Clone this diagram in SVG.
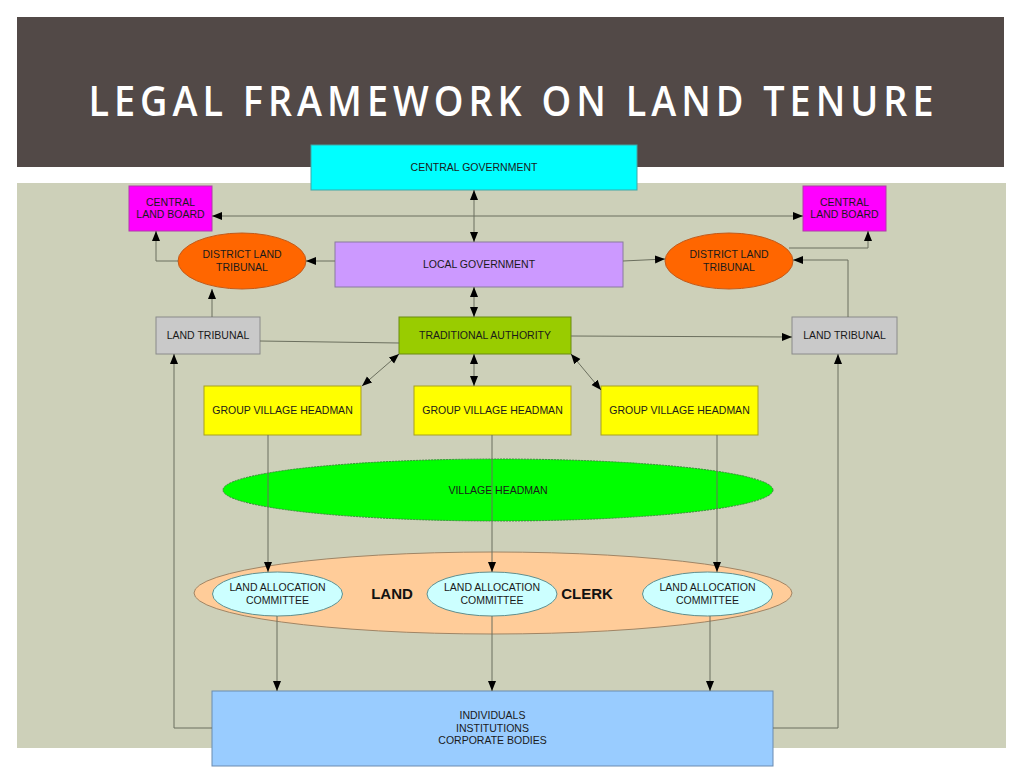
<svg xmlns="http://www.w3.org/2000/svg" width="1024" height="768" viewBox="0 0 1024 768">
<style>
text{font-family:"Liberation Sans",Arial,sans-serif;font-size:10.5px;fill:#1a1a1a;text-anchor:middle;dominant-baseline:central}
.title{font-family:"Open Sans","Liberation Sans",sans-serif;font-size:42px;font-weight:600;fill:#ffffff;dominant-baseline:auto}
.big{font-size:15px;font-weight:bold;fill:#111}
.c{fill:none;stroke:#6b6f5e;stroke-width:1}
.a{marker-end:url(#ar)}
.b{marker-start:url(#ar);marker-end:url(#ar)}
</style>
<defs>
<marker id="ar" markerUnits="userSpaceOnUse" markerWidth="11" markerHeight="9" refX="10" refY="4" orient="auto-start-reverse" viewBox="0 0 11 9">
<path d="M0,0 L10,4 L0,8 z" fill="#000"/>
</marker>
</defs>
<rect width="1024" height="768" fill="#ffffff"/>
<rect x="17" y="17" width="987" height="150" fill="#524947"/>
<rect x="17" y="183" width="989" height="565" fill="#cdd0b9"/>
<text class="title" transform="scale(0.9,1)" x="567.8" y="116" textLength="939" lengthAdjust="spacing">LEGAL FRAMEWORK ON LAND TENURE</text>

<g id="central-government"><rect x="311" y="145" width="326" height="45" fill="#00ffff" stroke="#3fa7a7"/><text x="474" y="167">CENTRAL GOVERNMENT</text></g>
<g id="central-land-board-left"><rect x="129" y="186" width="83" height="45" fill="#ff00ff" stroke="#b03aa8"/><text x="170.5" y="201.5">CENTRAL</text><text x="170.5" y="214">LAND BOARD</text></g>
<g id="central-land-board-right"><rect x="803" y="186" width="83" height="45" fill="#ff00ff" stroke="#b03aa8"/><text x="844.5" y="201.5">CENTRAL</text><text x="844.5" y="214">LAND BOARD</text></g>
<g id="district-land-tribunal-left"><ellipse cx="242" cy="261" rx="64" ry="28" fill="#ff6600" stroke="#c25a1a"/><text x="242" y="254">DISTRICT LAND</text><text x="242" y="267">TRIBUNAL</text></g>
<g id="district-land-tribunal-right"><ellipse cx="729" cy="261" rx="64" ry="28" fill="#ff6600" stroke="#c25a1a"/><text x="729" y="254">DISTRICT LAND</text><text x="729" y="267">TRIBUNAL</text></g>
<g id="local-government"><rect x="335" y="242" width="288" height="45" fill="#cc99ff" stroke="#8a7b9e"/><text x="479" y="264">LOCAL GOVERNMENT</text></g>
<g id="land-tribunal-left"><rect x="156" y="317" width="104" height="37" fill="#c9c9c9" stroke="#8a8a8a"/><text x="208" y="335">LAND TRIBUNAL</text></g>
<g id="land-tribunal-right"><rect x="792" y="317" width="105" height="37" fill="#c9c9c9" stroke="#8a8a8a"/><text x="844.5" y="335">LAND TRIBUNAL</text></g>
<g id="traditional-authority"><rect x="399" y="317" width="172" height="37" fill="#99cc00" stroke="#6b8a10"/><text x="485" y="335">TRADITIONAL AUTHORITY</text></g>
<g id="group-village-headman-1"><rect x="204" y="386" width="157" height="49" fill="#ffff00" stroke="#a7a020"/><text x="282.5" y="410">GROUP VILLAGE HEADMAN</text></g>
<g id="group-village-headman-2"><rect x="414" y="386" width="157" height="49" fill="#ffff00" stroke="#a7a020"/><text x="492.5" y="410">GROUP VILLAGE HEADMAN</text></g>
<g id="group-village-headman-3"><rect x="601" y="386" width="157" height="49" fill="#ffff00" stroke="#a7a020"/><text x="679.5" y="410">GROUP VILLAGE HEADMAN</text></g>
<g id="village-headman"><ellipse cx="498" cy="490" rx="275" ry="31" fill="#00ff00" stroke="#3a8a3a" stroke-dasharray="2,1"/><text x="498" y="490">VILLAGE HEADMAN</text></g>
<g id="land-clerk"><ellipse cx="493" cy="593" rx="299" ry="41" fill="#ffcc99" stroke="#a08565"/><text class="big" x="392" y="593">LAND</text><text class="big" x="587" y="593">CLERK</text></g>
<g id="land-allocation-committee-1"><ellipse cx="277.5" cy="594" rx="65" ry="22" fill="#ccffff" stroke="#5f8f8f"/><text x="277.5" y="587">LAND ALLOCATION</text><text x="277.5" y="600">COMMITTEE</text></g>
<g id="land-allocation-committee-2"><ellipse cx="492" cy="594" rx="65" ry="22" fill="#ccffff" stroke="#5f8f8f"/><text x="492" y="587">LAND ALLOCATION</text><text x="492" y="600">COMMITTEE</text></g>
<g id="land-allocation-committee-3"><ellipse cx="707.5" cy="594" rx="65" ry="22" fill="#ccffff" stroke="#5f8f8f"/><text x="707.5" y="587">LAND ALLOCATION</text><text x="707.5" y="600">COMMITTEE</text></g>
<g id="individuals"><rect x="212" y="691" width="561" height="75" fill="#99ccff" stroke="#6a8bb0"/><text x="492.5" y="715">INDIVIDUALS</text><text x="492.5" y="728">INSTITUTIONS</text><text x="492.5" y="740">CORPORATE BODIES</text></g>

<g id="connectors">
<path class="c b" d="M474,190 L474,242"/>
<path class="c b" d="M212,216 L803,216"/>
<path class="c a" d="M335,261 L306,261"/>
<path class="c a" d="M623,261 L665,259"/>
<path class="c a" d="M178,261 L156,261 L156,231"/>
<path class="c a" d="M789,248 L868,248 L868,231"/>
<path class="c a" d="M212,317 L212,289"/>
<path class="c a" d="M848,317 L848,260 L793,260"/>
<path class="c b" d="M474,287 L474,317"/>
<path class="c" d="M260,341 L399,343"/>
<path class="c a" d="M571,336 L792,337"/>
<path class="c b" d="M399,354 L362,386"/>
<path class="c b" d="M474,354 L474,386"/>
<path class="c b" d="M571,354 L601,390"/>
<path class="c a" d="M268,435 L268,572"/>
<path class="c a" d="M492,435 L492,572"/>
<path class="c a" d="M717,435 L717,572"/>
<path class="c a" d="M277,616 L277,691"/>
<path class="c a" d="M492,616 L492,691"/>
<path class="c a" d="M710,616 L710,691"/>
<path class="c a" d="M212,728 L174,728 L174,354"/>
<path class="c a" d="M773,728 L838,728 L838,354"/>
</g>
</svg>
